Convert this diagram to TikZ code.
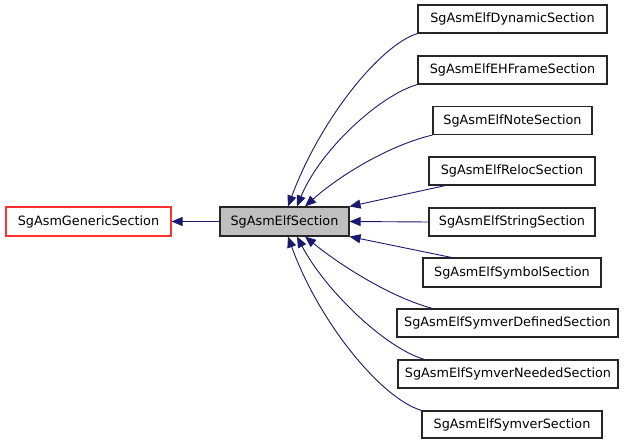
\documentclass[tikz,border=0pt]{standalone}
\usepackage{fontspec}
\setmainfont{DejaVu Sans}
\usetikzlibrary{arrows.meta}
\definecolor{edgeblue}{HTML}{191970}
\definecolor{boxgray}{HTML}{BFBFBF}
\definecolor{genred}{HTML}{FF3030}
\begin{document}
\begin{tikzpicture}[x=1pt,y=1pt,
  box/.style={draw=black!85, line width=1.1pt, fill=white, minimum height=28pt, inner sep=0pt, font=\fontsize{12.8}{15}\selectfont},
  edge/.style={draw=edgeblue, line width=0.9pt, {Triangle[length=11pt,width=9pt]}-}]
\useasboundingbox (0,0) rectangle (632,-443);
\fill[white] (0,0) rectangle (632,-443);
\node[box, draw=genred, minimum width=165pt, minimum height=29pt] (gen) at (88.5,-221.5) {SgAsmGenericSection};
\node[box, fill=boxgray, minimum width=129pt, minimum height=29pt] (elf) at (284.5,-221.5) {SgAsmElfSection};
\node[box, minimum width=189pt] (dyn) at (512.5,-19) {SgAsmElfDynamicSection};
\node[box, minimum width=189pt] (eh) at (512.5,-70) {SgAsmElfEHFrameSection};
\node[box, minimum width=159pt] (note) at (512.5,-120.5) {SgAsmElfNoteSection};
\node[box, minimum width=166pt] (reloc) at (512,-171) {SgAsmElfRelocSection};
\node[box, minimum width=166pt] (string) at (512,-222) {SgAsmElfStringSection};
\node[box, minimum width=178pt, minimum height=29pt] (symbol) at (512,-272.5) {SgAsmElfSymbolSection};
\node[box, minimum width=221pt] (symdef) at (507.5,-323) {SgAsmElfSymverDefinedSection};
\node[box, minimum width=220pt] (symneed) at (508,-374) {SgAsmElfSymverNeededSection};
\node[box, minimum width=180pt, minimum height=27pt] (symver) at (512,-424.5) {SgAsmElfSymverSection};
% edges
\draw[edge] (gen.east) -- (elf.west);
\draw[edge] ([xshift=3.5pt]elf.north) .. controls (320,-120) and (380,-45) .. (dyn.south west);
\draw[edge] ([xshift=12.5pt]elf.north) .. controls (320,-150) and (380,-95) .. (eh.south west);
\draw[edge] ([xshift=20.5pt]elf.north) .. controls (340,-175) and (390,-145) .. (note.south west);
\draw[edge] (elf.north east) -- ([xshift=17pt]reloc.south west);
\draw[edge] (elf.east) -- (string.west);
\draw[edge] (elf.south east) -- ([xshift=29pt]symbol.north west);
\draw[edge] ([xshift=20.5pt]elf.south) .. controls (340,-265) and (390,-297) .. ([xshift=36pt]symdef.north west);
\draw[edge] ([xshift=12.5pt]elf.south) .. controls (325,-290) and (385,-348) .. ([xshift=27pt]symneed.north west);
\draw[edge] ([xshift=3.5pt]elf.south) .. controls (318,-320) and (380,-398) .. (symver.north west);
\end{tikzpicture}
\end{document}
